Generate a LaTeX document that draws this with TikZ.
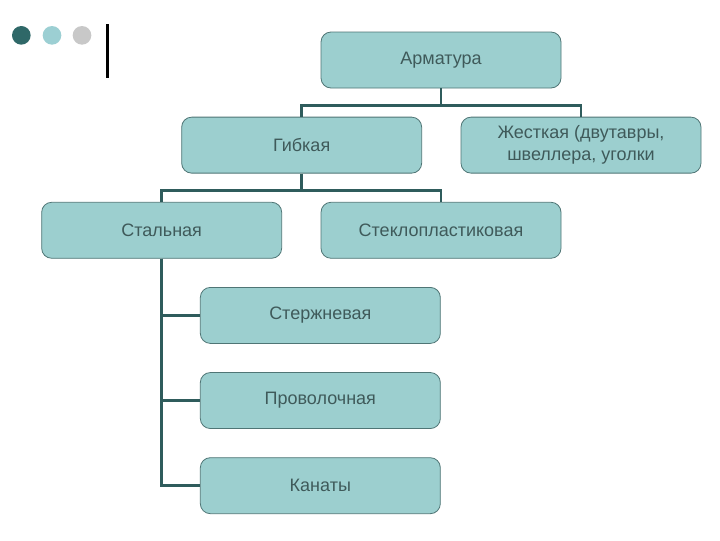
\documentclass[tikz,border=0pt]{standalone}
\usepackage{fontspec}
\setmainfont{Liberation Sans}
\usepackage{xcolor}
\usepackage{tikz}
\usetikzlibrary{positioning, calc}

\definecolor{boxfill}{HTML}{9CCFCF}
\definecolor{boxline}{HTML}{4F7575}
\definecolor{linkcol}{HTML}{2F5C5C}
\definecolor{textcol}{HTML}{3F5A5A}
\definecolor{dotdark}{HTML}{2F6868}
\definecolor{dotlight}{HTML}{9CCFD3}
\definecolor{dotgrey}{HTML}{C8C8C8}

\begin{document}
\begin{tikzpicture}[
    node distance=21.25pt,
    font=\fontsize{13.5}{16.5}\selectfont,
    box/.style={rectangle, rounded corners=7.5pt, draw=boxline, line width=0.6pt, fill=boxfill, text=textcol, minimum width=180pt, minimum height=42pt, text centered, align=center, inner sep=2pt},
    link/.style={draw=linkcol, line width=2pt}
]

\useasboundingbox (0,0) rectangle (540pt,-405pt);

% Decoration
\fill[dotdark] (16pt,-26.5pt) circle (7pt);
\fill[dotlight] (39pt,-26.5pt) circle (7pt);
\fill[dotgrey] (61.5pt,-26.5pt) circle (7pt);
\draw[line width=2.2pt] (80.5pt,-18pt) -- (80.5pt,-58.5pt);

% Nodes
\node (arm) [box] at (330.75pt,-45pt) {Арматура};
\node (gib) [box, below=of arm, xshift=-104.5pt] {Гибкая};
\node (zhest) [box, below=of arm, xshift=105pt] {Жесткая (двутавры,\\швеллера, уголки};
\node (stal) [box, below=of gib, xshift=-105pt] {Стальная};
\node (steklo) [box, below=of gib, xshift=104.5pt] {Стеклопластиковая};
\node (sterzh) [box, below=of stal, xshift=119pt] {Стержневая};
\node (prov) [box, below=of sterzh] {Проволочная};
\node (kan) [box, below=of prov] {Канаты};

% Paths
\draw [link] (arm.south) -- ++(0,-12.75pt) -| (gib.north);
\draw [link] (arm.south) -- ++(0,-12.75pt) -| (zhest.north);
\draw [link] (gib.south) -- ++(0,-12.75pt) -| (stal.north);
\draw [link] (gib.south) -- ++(0,-12.75pt) -| (steklo.north);
\draw [link] (stal.south) |- (sterzh.west);
\draw [link] (stal.south) |- (prov.west);
\draw [link] (stal.south) |- (kan.west);

\end{tikzpicture}
\end{document}
